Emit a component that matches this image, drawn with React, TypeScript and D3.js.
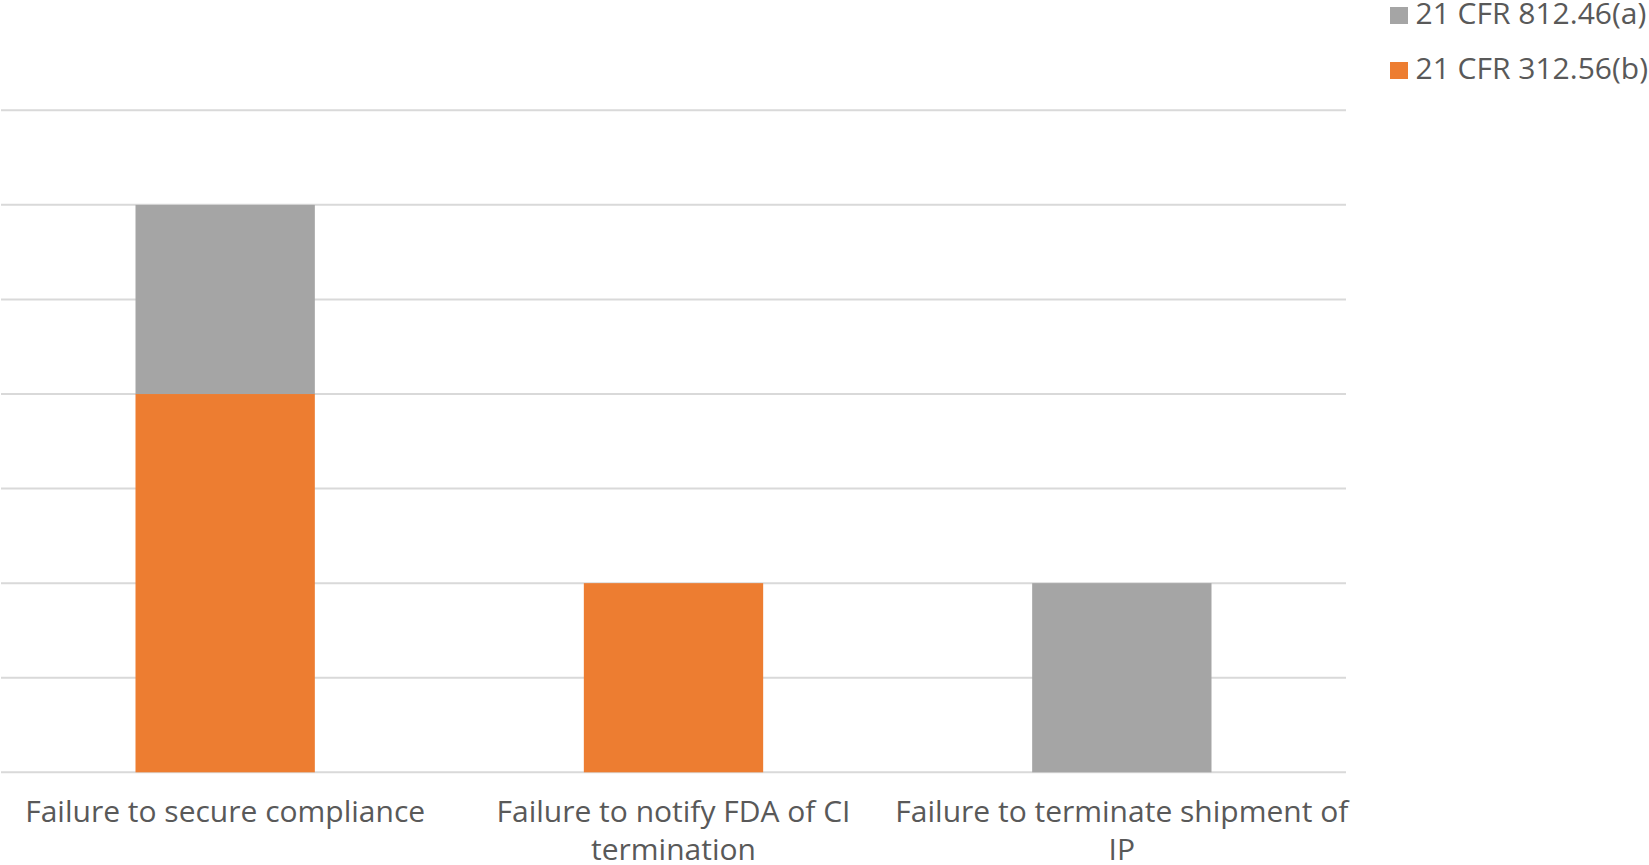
import React from "react";
import * as d3 from "d3";

// Violation categories along the x axis (line breaks mark where the label wraps)
const categories = [
  "Failure to secure compliance",
  "Failure to notify FDA of CI\ntermination",
  "Failure to terminate shipment of\nIP",
];

// Stacked series, bottom to top
const seriesNames = ["21 CFR 312.56(b)", "21 CFR 812.46(a)"];
const values31256b = [4, 2, 0];
const values81246a = [2, 0, 2];

// Legend lists the top series first
const legendOrder = ["21 CFR 812.46(a)", "21 CFR 312.56(b)"];

const gridTicks = [0, 1, 2, 3, 4, 5, 6, 7];

const W = 1649;
const H = 865;
const plotLeft = 1;
const plotRight = 1346;
const plotTop = 110.3;
const plotBottom = 772.3;

const colors: Record<string, string> = {
  "21 CFR 312.56(b)": "#ED7D31",
  "21 CFR 812.46(a)": "#A5A5A5",
};

const FONT = "'Open Sans', 'Liberation Sans', sans-serif";
const TEXT_COLOR = "#595959";

export default function App() {
  const x = d3.scaleBand<string>().domain(categories).range([plotLeft, plotRight]).padding(0);
  const y = d3.scaleLinear().domain([0, 7]).range([plotBottom, plotTop]);
  const barW = x.bandwidth() * 0.4;

  const rows = categories.map((c, i) => ({
    cat: c,
    "21 CFR 312.56(b)": values31256b[i],
    "21 CFR 812.46(a)": values81246a[i],
  }));
  const stacked = d3.stack<any>().keys(seriesNames)(rows);

  return (
    <svg
      width={W}
      height={H}
      style={{ position: "absolute", left: 0, top: 0, display: "block", background: "#fff" }}
      fontFamily={FONT}
    >
      {gridTicks.map((t) => (
        <line
          key={t}
          x1={plotLeft}
          x2={plotRight}
          y1={y(t)}
          y2={y(t)}
          stroke="#D9D9D9"
          strokeWidth={2}
        />
      ))}

      {stacked.map((layer) => (
        <g key={layer.key} fill={colors[layer.key]}>
          {layer.map((d, i) =>
            d[1] - d[0] > 0 ? (
              <rect
                key={i}
                x={(x(categories[i]) as number) + (x.bandwidth() - barW) / 2}
                y={y(d[1])}
                width={barW}
                height={y(d[0]) - y(d[1])}
              />
            ) : null
          )}
        </g>
      ))}

      {categories.map((c) => {
        const cx = (x(c) as number) + x.bandwidth() / 2;
        return (
          <text key={c} x={cx} y={822} textAnchor="middle" fontSize={30} fill={TEXT_COLOR}>
            {c.split("\n").map((line, j) => (
              <tspan key={j} x={cx} dy={j === 0 ? 0 : 38}>
                {line}
              </tspan>
            ))}
          </text>
        );
      })}

      {legendOrder.map((name, i) => (
        <g key={name} transform={`translate(1390, ${24 + i * 55})`}>
          <rect x={0} y={-17} width={18} height={17} fill={colors[name]} />
          <text x={25.5} y={0} fontSize={30} fill={TEXT_COLOR}>
            {name}
          </text>
        </g>
      ))}
    </svg>
  );
}
